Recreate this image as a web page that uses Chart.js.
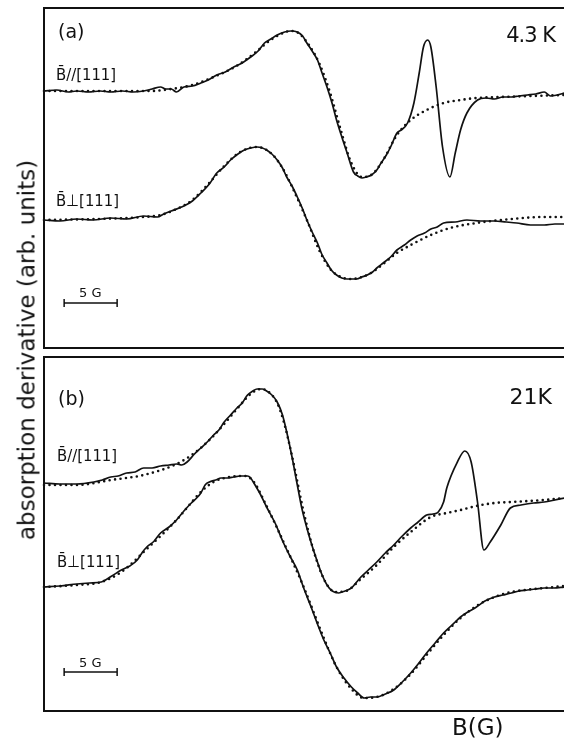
<!DOCTYPE html>
<html><head><meta charset="utf-8">
<script src="https://cdn.jsdelivr.net/npm/chart.js@4.4.1/dist/chart.umd.min.js"></script>
<style>
html,body{margin:0;padding:0;background:#fff;}
#wrap{position:relative;width:564px;height:738px;overflow:hidden;font-family:"DejaVu Sans",sans-serif;color:#111;}
canvas{position:absolute;left:0;}
.t{position:absolute;white-space:nowrap;line-height:1;}
.lab{font-family:"DejaVu Sans Condensed","DejaVu Sans",sans-serif;font-size:16.5px;}
</style></head><body><div id="wrap">
<canvas id="ca" style="top:0" width="564" height="352"></canvas>
<canvas id="cb" style="top:352px" width="564" height="386"></canvas>
<div class="t" style="left:58px;top:22.4px;font-size:19px;">(a)</div>
<div class="t" style="right:9px;top:25.2px;font-size:21px;letter-spacing:-1px;">4.3 K</div>
<div class="t lab" style="left:56px;top:67px;">B̄//[111]</div>
<div class="t lab" style="left:56px;top:193px;">B̄⊥[111]</div>
<div class="t" style="left:79px;top:286px;font-size:13px;">5 G</div>
<div class="t" style="left:58px;top:389.4px;font-size:19px;">(b)</div>
<div class="t" style="right:12px;top:386.4px;font-size:22px;">21K</div>
<div class="t lab" style="left:57px;top:448px;">B̄//[111]</div>
<div class="t lab" style="left:57px;top:554px;">B̄⊥[111]</div>
<div class="t" style="left:79px;top:656px;font-size:13px;">5 G</div>
<div class="t" style="left:452px;top:715.5px;font-size:23px;">B(G)</div>
<div class="t" style="left:27px;top:350px;font-size:23px;transform:translate(-50%,-50%) rotate(-90deg);">absorption derivative (arb. units)</div>
</div>
<script>
// B in gauss (relative to left edge of the plot), signal in arbitrary units
const B_MAX = 49.06;
const scaleBarG = [1.9, 6.9];

// panel (a) 4.3 K
const aParSignal = [[0,25.7],[1.2,25.8],[2.3,25.6],[3.1,25.7],[4.2,25.6],[5.3,25.7],[6.3,25.6],[7.4,25.7],[8.4,25.6],[9.4,25.7],[10.2,25.9],[11.0,26.1],[11.5,25.9],[12.0,25.9],[12.5,25.6],[13.2,26.1],[14.0,26.2],[14.8,26.5],[15.5,26.8],[16.3,27.3],[17.1,27.6],[17.9,28.1],[18.7,28.5],[19.5,29.1],[20.2,29.7],[20.8,30.5],[21.4,30.9],[22.0,31.3],[22.7,31.6],[23.3,31.7],[23.9,31.6],[24.4,31.2],[24.8,30.5],[25.3,29.7],[25.8,28.8],[26.2,27.6],[26.7,26.1],[27.2,24.4],[27.6,22.8],[28.1,21.1],[28.6,19.5],[29.2,17.6],[29.6,17.2],[30.0,17.0],[30.4,17.1],[30.9,17.3],[31.4,17.8],[31.8,18.5],[32.3,19.3],[32.7,20.1],[33.3,21.5],[33.7,21.8],[34.3,22.5],[34.9,24.5],[35.4,27.5],[35.8,30.1],[36.2,30.8],[36.5,30.1],[37.0,26.1],[37.6,20.1],[38.3,17.1],[38.8,19.5],[39.3,21.8],[39.9,23.5],[40.9,24.8],[41.7,25.0],[42.5,24.9],[43.3,25.1],[44.1,25.1],[44.8,25.2],[45.6,25.3],[46.4,25.4],[47.2,25.6],[47.8,25.2],[48.4,25.3],[49.1,25.5]];
const aParFit = [[0,25.7],[5,25.7],[10,25.7],[12,25.9],[14,26.3],[16,27.1],[18,28.1],[20,29.6],[21,30.5],[22,31.2],[23.3,31.7],[24,31.5],[25,30.3],[26,28.4],[27,25.5],[28,21.8],[29,18.5],[30,17.1],[31,17.4],[32,18.8],[33.3,21.3],[34.6,22.8],[36.1,23.8],[37.7,24.5],[39.3,24.8],[40.8,25.0],[43,25.1],[46,25.2],[49.1,25.3]];
const aPerpSignal = [[0,12.8],[1.5,12.7],[3.1,12.9],[4.6,12.8],[6.3,13.0],[7.8,12.9],[9.4,13.2],[10.7,13.1],[11.3,13.4],[12.0,13.7],[13.2,14.2],[14.0,14.7],[14.8,15.5],[15.6,16.4],[16.3,17.5],[17.0,18.1],[17.6,18.8],[18.3,19.4],[18.9,19.8],[19.5,20.0],[20.1,20.1],[20.6,20.0],[21.0,19.8],[21.5,19.4],[22.0,18.8],[22.5,18.0],[22.9,17.1],[23.4,16.2],[23.9,15.1],[24.4,13.9],[24.8,12.8],[25.3,11.6],[25.8,10.5],[26.2,9.4],[26.7,8.5],[27.1,7.8],[27.6,7.3],[28.1,7.0],[28.6,6.9],[29.0,6.9],[29.5,6.9],[30.0,7.1],[30.5,7.3],[31.0,7.6],[31.4,8.0],[32.0,8.5],[32.7,9.1],[33.3,9.8],[34.0,10.3],[34.6,10.8],[35.2,11.2],[35.9,11.5],[36.5,11.9],[37.1,12.1],[37.7,12.5],[38.8,12.6],[39.9,12.8],[41.2,12.7],[42.5,12.7],[43.6,12.6],[44.6,12.5],[45.9,12.3],[47.2,12.3],[48.2,12.4],[49.1,12.4]];
const aPerpFit = [[0,12.8],[5,12.9],[9.4,13.1],[11,13.3],[12.5,13.9],[14,14.8],[15.5,16.4],[17,18.2],[18.5,19.6],[20.1,20.1],[21.5,19.4],[22.5,18.0],[23.5,15.9],[24.8,12.8],[26,9.7],[27,7.9],[28,7.1],[29,6.9],[30,7.1],[31,7.6],[32,8.4],[33.3,9.5],[34.6,10.3],[36.5,11.3],[38.3,12.0],[40.8,12.5],[44.1,12.9],[47.2,13.1],[49.1,13.1]];

// panel (b) 21 K
const bParSignal = [[0,22.8],[1.5,22.7],[3.1,22.7],[4.7,22.9],[5.5,23.1],[6.3,23.4],[7.0,23.5],[7.8,23.8],[8.6,23.9],[9.4,24.3],[10.2,24.3],[11.0,24.5],[11.8,24.6],[12.5,24.7],[13.0,24.6],[13.5,24.9],[14.2,25.7],[14.8,26.3],[15.4,26.9],[16.0,27.6],[16.5,28.1],[17.0,28.9],[17.6,29.6],[18.2,30.3],[18.7,30.8],[19.2,31.6],[19.7,32.0],[20.1,32.2],[20.6,32.2],[21.0,32.0],[21.5,31.6],[22.0,30.9],[22.5,29.6],[22.9,27.9],[23.4,25.4],[23.9,22.6],[24.3,20.4],[24.8,18.3],[25.3,16.5],[25.8,14.9],[26.2,13.7],[26.7,12.6],[27.2,12.0],[27.8,11.8],[28.4,12.0],[29.0,12.3],[29.5,12.9],[29.9,13.4],[30.6,14.1],[31.4,14.9],[32.2,15.8],[33.0,16.6],[33.8,17.5],[34.6,18.3],[35.3,18.9],[36.1,19.6],[36.7,19.7],[37.2,19.9],[37.7,20.9],[38.0,22.3],[39.0,24.9],[39.7,26.0],[40.3,24.9],[40.9,20.9],[41.5,16.1],[42.1,16.9],[43.1,18.6],[44.0,20.3],[45.0,20.6],[46.2,20.8],[47.2,20.9],[48.2,21.1],[49.1,21.3]];
const bParFit = [[0,22.6],[3.1,22.6],[6.3,23.1],[9.4,23.6],[12.5,24.7],[14.2,25.8],[15.8,27.3],[17.0,28.7],[18.2,30.2],[19.5,31.7],[20.5,32.2],[21.2,31.9],[22.0,30.8],[22.6,29.0],[23.4,25.5],[24.5,19.9],[25.5,15.8],[26.5,13.0],[27.5,11.9],[28.5,12.0],[29.9,13.2],[31.4,14.6],[33.0,16.4],[34.6,17.9],[36.5,19.4],[38.0,19.8],[39.3,20.1],[40.8,20.5],[42.5,20.8],[44.1,20.9],[47.2,21.1],[49.1,21.3]];
const bPerpSignal = [[0,12.4],[1.5,12.5],[3.1,12.7],[4.3,12.8],[5.4,12.9],[6.4,13.5],[7.3,14.1],[8.1,14.5],[8.8,15.1],[9.3,15.9],[9.7,16.4],[10.4,17.0],[11.0,17.8],[11.8,18.4],[12.5,19.1],[13.2,20.0],[13.9,20.8],[14.4,21.3],[14.8,21.8],[15.2,22.6],[15.6,22.9],[16.2,23.1],[16.7,23.3],[17.3,23.3],[17.9,23.4],[18.5,23.5],[19.2,23.5],[19.5,23.3],[19.8,22.8],[20.4,21.7],[21.0,20.4],[21.8,18.8],[22.6,16.8],[23.2,15.5],[23.9,14.1],[24.5,12.3],[25.2,10.4],[25.8,8.7],[26.4,7.1],[27.0,5.8],[27.6,4.4],[28.3,3.3],[29.0,2.4],[29.6,1.8],[30.2,1.3],[30.8,1.4],[31.4,1.4],[32.2,1.7],[33.0,2.1],[33.8,2.9],[34.6,3.8],[35.3,4.7],[36.1,5.8],[36.9,6.8],[37.7,7.8],[38.5,8.6],[39.3,9.4],[40.0,9.9],[40.8,10.4],[41.6,11.0],[42.5,11.4],[43.3,11.6],[44.1,11.8],[44.8,12.0],[45.6,12.1],[46.4,12.2],[47.2,12.3],[48.1,12.3],[49.1,12.4]];
const bPerpFit = [[0,12.4],[3.1,12.6],[5.4,12.9],[7.3,13.9],[9.7,16.2],[12.5,19.1],[14.8,21.9],[16.0,22.9],[17.5,23.4],[19.0,23.5],[19.8,22.9],[21.0,20.5],[22.6,16.9],[24.5,12.4],[26.4,7.3],[27.6,4.4],[29.0,2.2],[30.2,1.3],[31.4,1.4],[33.0,2.2],[34.6,3.7],[36.1,5.6],[37.7,7.6],[39.3,9.3],[40.8,10.5],[42.5,11.4],[44.1,11.9],[47.2,12.3],[49.1,12.5]];

const toXY = arr => arr.map(p => ({x: p[0], y: p[1]}));
const solid = d => ({data: toXY(d), borderColor: '#111', borderWidth: 1.7, pointRadius: 0, cubicInterpolationMode: 'monotone', fill: false});
const dotted = d => ({data: toXY(d), borderColor: '#111', borderWidth: 2.6, borderDash: [0, 5.5], borderCapStyle: 'round', pointRadius: 0, cubicInterpolationMode: 'monotone', fill: false});

const framePlugin = {
  id: 'frame',
  beforeDatasetsDraw(chart, args, o) {
    const {ctx, chartArea: a} = chart;
    ctx.save();
    ctx.strokeStyle = '#111';
    ctx.lineWidth = 2;
    ctx.beginPath();
    ctx.moveTo(a.right, a.top); ctx.lineTo(a.left, a.top);
    ctx.lineTo(a.left, a.bottom); ctx.lineTo(a.right, a.bottom);
    ctx.stroke();
    const xs = chart.scales.x, ys = chart.scales.y;
    const x0 = xs.getPixelForValue(o.bar[0]), x1 = xs.getPixelForValue(o.bar[1]);
    const y = ys.getPixelForValue(o.barY);
    ctx.lineWidth = 1.5;
    ctx.beginPath();
    ctx.moveTo(x0, y); ctx.lineTo(x1, y);
    ctx.moveTo(x0, y - 4); ctx.lineTo(x0, y + 4);
    ctx.moveTo(x1, y - 4); ctx.lineTo(x1, y + 4);
    ctx.stroke();
    ctx.restore();
  }
};

function make(id, datasets, yMax, pad, barY) {
  new Chart(document.getElementById(id), {
    type: 'line',
    data: {datasets},
    options: {
      responsive: false, animation: false, clip: false,
      layout: {padding: pad},
      scales: {
        x: {type: 'linear', min: 0, max: B_MAX, display: false},
        y: {min: 0, max: yMax, display: false}
      },
      plugins: {legend: {display: false}, tooltip: {enabled: false}, frame: {bar: scaleBarG, barY}}
    },
    plugins: [framePlugin]
  });
}

make('ca', [dotted(aParFit), solid(aParSignal), dotted(aPerpFit), solid(aPerpSignal)], 34, {left: 44, top: 8, right: 0, bottom: 4}, 4.5);
make('cb', [dotted(bParFit), solid(bParSignal), dotted(bPerpFit), solid(bPerpSignal)], 35.4, {left: 44, top: 5, right: 0, bottom: 27}, 3.9);
</script>
</body></html>
